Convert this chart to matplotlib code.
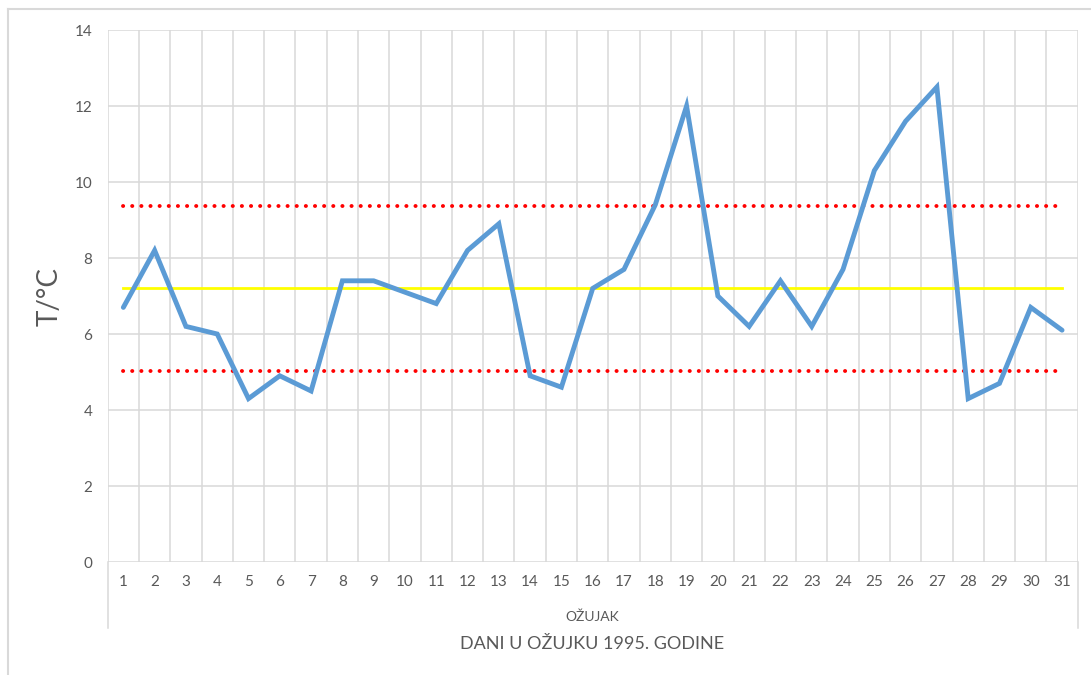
import numpy as np
import matplotlib.pyplot as plt
from matplotlib.lines import Line2D

plt.rcParams['font.family'] = ['Lato', 'DejaVu Sans']

# temperatures in March 1995
days = list(range(1, 32))
temps = [6.7, 8.2, 6.2, 6.0, 4.3, 4.9, 4.5, 7.4, 7.4, 7.1, 6.8, 8.2, 8.9, 4.9, 4.6,
         7.2, 7.7, 9.4, 12.0, 7.0, 6.2, 7.4, 6.2, 7.7, 10.3, 11.6, 12.5, 4.3, 4.7, 6.7, 6.1]
mean_t = 7.2
upper_t = 9.37
lower_t = 5.03

grid_c = '#d9d9d9'
text_c = '#595959'

fig = plt.figure(figsize=(10.91, 6.75), dpi=100)
ax = fig.add_axes([107.7 / 1091, 1 - 562 / 675, 970 / 1091, 532 / 675])

ax.plot(days, [upper_t] * len(days), color='#ff0000', lw=2.8,
        linestyle=(0, (0.05, 2.3)), dash_capstyle='round', zorder=3)
ax.plot(days, [lower_t] * len(days), color='#ff0000', lw=2.8,
        linestyle=(0, (0.05, 2.3)), dash_capstyle='round', zorder=3)
ax.plot(days, [mean_t] * len(days), color='#ffff00', lw=2.0, zorder=3)
ax.plot(days, temps, color='#5b9bd5', lw=3.5, solid_joinstyle='miter',
        solid_capstyle='round', zorder=4)

ax.set_xlim(0.5, 31.5)
ax.set_ylim(0, 14)
ax.set_yticks(np.arange(0, 15, 2))
ax.set_xticks(days)
ax.set_xticks(np.arange(0.5, 32, 1), minor=True)
ax.grid(which='major', axis='y', color=grid_c, lw=1.1)
ax.grid(which='minor', axis='x', color=grid_c, lw=1.1)
ax.set_axisbelow(True)
for s in ax.spines.values():
    s.set_visible(False)
ax.tick_params(which='both', length=0)
ax.tick_params(axis='y', labelsize=11, labelcolor=text_c, pad=11)
ax.tick_params(axis='x', labelsize=11, labelcolor=text_c, pad=9)

# category box edges below the axis
for xb in (0.5, 31.5):
    ax.add_line(Line2D([xb, xb], [0, -66 / 532], transform=ax.get_xaxis_transform(),
                       color=grid_c, lw=1.1, clip_on=False))

fig.text(50 / 1091, 1 - 296 / 675, 'T/°C', rotation=90, fontsize=20, color=text_c,
         ha='center', va='center')
fig.text(592 / 1091, 1 - 617 / 675, 'OŽUJAK', fontsize=10, color=text_c,
         ha='center', va='center')
fig.text(592 / 1091, 1 - 644 / 675, 'DANI U OŽUJKU 1995. GODINE', fontsize=13,
         color=text_c, ha='center', va='center')

# chart frame (left and top edges)
fig.add_artist(Line2D([7.5 / 1091, 7.5 / 1091], [0, 1 - 8.5 / 675], color=grid_c, lw=1.5))
fig.add_artist(Line2D([7.5 / 1091, 1], [1 - 8.5 / 675, 1 - 8.5 / 675], color=grid_c, lw=1.5))

fig.savefig('out.png', dpi=100)
